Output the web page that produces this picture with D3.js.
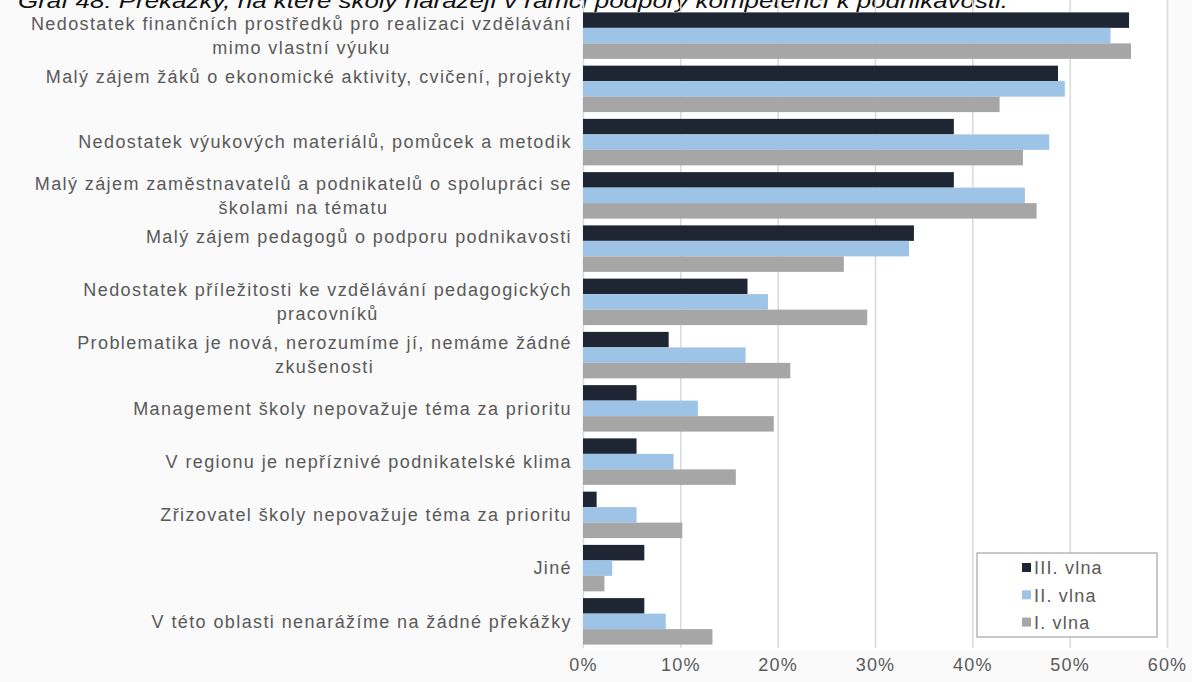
<!DOCTYPE html>
<html>
<head>
<meta charset="utf-8">
<script src="https://cdn.jsdelivr.net/npm/d3@7"></script>
<style>
  html, body { margin: 0; padding: 0; background: #fafafa; }
  svg { display: block; }
</style>
</head>
<body>
<svg id="chart" width="1192" height="682"></svg>
<script>
// ---- data ----
const titleText = "Graf 48: Překážky, na které školy narážejí v rámci podpory kompetencí k podnikavosti.";
// "|" marks a line break inside a category label (a trailing one leaves an empty line)
const categories = [
  "Nedostatek finančních prostředků pro realizaci vzdělávání|mimo vlastní výuku",
  "Malý zájem žáků o ekonomické aktivity, cvičení, projekty|",
  "Nedostatek výukových materiálů, pomůcek a metodik",
  "Malý zájem zaměstnavatelů a podnikatelů o spolupráci se|školami na tématu",
  "Malý zájem pedagogů o podporu podnikavosti|",
  "Nedostatek příležitosti ke vzdělávání pedagogických|pracovníků",
  "Problematika je nová, nerozumíme jí, nemáme žádné|zkušenosti",
  "Management školy nepovažuje téma za prioritu",
  "V regionu je nepříznivé podnikatelské klima",
  "Zřizovatel školy nepovažuje téma za prioritu",
  "Jiné",
  "V této oblasti nenarážíme na žádné překážky"
];
const seriesNames = ["III. vlna", "II. vlna", "I. vlna"];
const wave3 = [56.1, 48.8, 38.1, 38.1, 34.0, 16.9, 8.8, 5.5, 5.5, 1.4, 6.3, 6.3];
const wave2 = [54.2, 49.5, 47.9, 45.4, 33.5, 19.0, 16.7, 11.8, 9.3, 5.5, 3.0, 8.5];
const wave1 = [56.3, 42.8, 45.2, 46.6, 26.8, 29.2, 21.3, 19.6, 15.7, 10.2, 2.2, 13.3];
const xTicks = [0, 10, 20, 30, 40, 50, 60];
const colors = ["#1f2633", "#9dc3e6", "#a6a6a6"];

// ---- layout ----
const svg = d3.select("#chart");
const plotLeft = 583, plotRight = 1167, plotTop = 9, plotBottom = 648;
const labelFont = "'Liberation Sans', Arial, sans-serif";
const textColor = "#595959";

const series = [wave3, wave2, wave1];
const rows = categories.map((c, i) => ({ cat: c, vals: series.map(s => s[i]) }));

const x = d3.scaleLinear().domain([0, 60]).range([plotLeft, plotRight]);
const y = d3.scaleBand().domain(categories).range([plotTop, plotBottom])
  .paddingInner(0.127).paddingOuter(0.0635);
const ys = d3.scaleBand().domain(seriesNames).range([0, y.bandwidth()]);

// plot background
svg.append("rect").attr("x", plotLeft).attr("y", 0)
  .attr("width", plotRight - plotLeft).attr("height", plotBottom + 2)
  .attr("fill", "#ffffff");

// title (cut off at top as in the original)
svg.append("text").attr("x", 18).attr("y", 8)
  .attr("font-family", labelFont).attr("font-style", "italic")
  .attr("font-size", 21).attr("fill", "#111")
  .attr("textLength", 990).attr("lengthAdjust", "spacingAndGlyphs")
  .text(titleText);

// grid
const xAxis = d3.axisBottom(x).tickValues(xTicks).tickSize(-(plotBottom - 0))
  .tickFormat(d => d + "%").tickPadding(10);
const gx = svg.append("g").attr("transform", `translate(0,${plotBottom})`).call(xAxis);
gx.select(".domain").remove();
gx.selectAll(".tick line").attr("stroke", "#d9d9d9").attr("stroke-width", 1.5);
gx.selectAll(".tick text").attr("font-family", labelFont).attr("font-size", 18)
  .attr("fill", textColor).attr("letter-spacing", 1.2);

// bars
const groups = svg.append("g").selectAll("g").data(rows).join("g")
  .attr("transform", d => `translate(0,${y(d.cat)})`);
groups.selectAll("rect").data(d => d.vals.map((v, k) => ({ v, k })))
  .join("rect")
  .attr("x", x(0))
  .attr("y", d => ys(seriesNames[d.k]))
  .attr("width", d => x(d.v) - x(0))
  .attr("height", ys.bandwidth())
  .attr("fill", d => colors[d.k]);

// category labels
const labelRight = 572;
const lineH = 24;
const lab = svg.append("g");
categories.forEach(c => {
  const lines = c.split("|");
  const cy = y(c) + y.bandwidth() / 2;
  const t = lab.append("text")
    .attr("font-family", labelFont).attr("font-size", 18)
    .attr("letter-spacing", 1.4).attr("fill", textColor);
  lines.forEach((ln, i) => {
    if (!ln) return;
    t.append("tspan").attr("x", 0)
      .attr("y", cy + (i - (lines.length - 1) / 2) * lineH)
      .attr("dy", "0.35em").text(ln);
  });
  // right-align the block, center lines inside it
  const w = t.node().getBBox().width;
  t.selectAll("tspan").attr("text-anchor", "middle").attr("x", labelRight - w / 2);
});

// legend
const lg = svg.append("g");
lg.append("rect").attr("x", 977).attr("y", 553).attr("width", 180).attr("height", 84)
  .attr("fill", "#ffffff").attr("stroke", "#a6a6a6").attr("stroke-width", 1.2);
seriesNames.forEach((n, i) => {
  const cy = 568 + i * 27.3;
  lg.append("rect").attr("x", 1022).attr("y", cy - 5).attr("width", 9).attr("height", 9)
    .attr("fill", colors[i]);
  lg.append("text").attr("x", 1034).attr("y", cy).attr("dy", "0.35em")
    .attr("font-family", labelFont).attr("font-size", 18).attr("letter-spacing", 1.2)
    .attr("fill", textColor).text(n);
});
</script>
</body>
</html>
